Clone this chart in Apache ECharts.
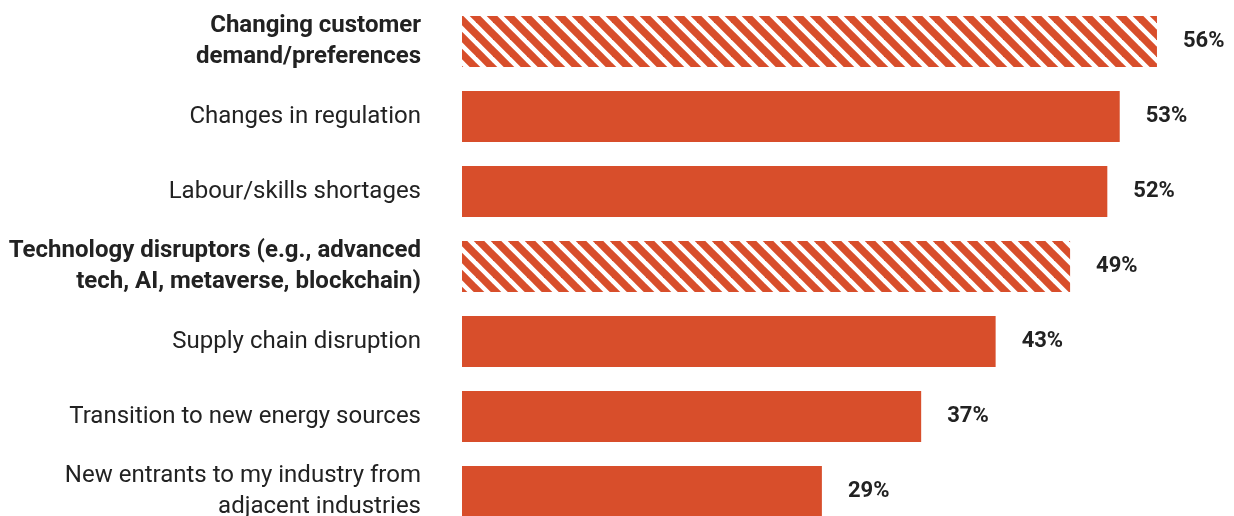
<!DOCTYPE html>
<html>
<head>
<meta charset="utf-8">
<script src="https://cdn.jsdelivr.net/npm/echarts@6/dist/echarts.min.js"></script>
<style>
html,body{margin:0;padding:0;background:#fff;}
#c{width:1234px;height:516px;}
</style>
</head>
<body>
<div id="c"></div>
<script>
const categories = [
  "Changing customer\ndemand/preferences",
  "Changes in regulation",
  "Labour/skills shortages",
  "Technology disruptors (e.g., advanced\ntech, AI, metaverse, blockchain)",
  "Supply chain disruption",
  "Transition to new energy sources",
  "New entrants to my industry from\nadjacent industries"
];
const values = [56, 53, 52, 49, 43, 37, 29];
const highlighted = [true, false, false, true, false, false, false];

const RED = '#D84E2B';

function makeHatch() {
  const s = 17;
  const cv = document.createElement('canvas');
  cv.width = s; cv.height = s;
  const ctx = cv.getContext('2d');
  ctx.fillStyle = '#ffffff';
  ctx.fillRect(0, 0, s, s);
  ctx.strokeStyle = RED;
  ctx.lineWidth = 7.5;
  for (const o of [-s, 0, s]) {
    ctx.beginPath();
    ctx.moveTo(o - 5, -5);
    ctx.lineTo(o + s + 5, s + 5);
    ctx.stroke();
  }
  return cv;
}
const hatch = { image: makeHatch(), repeat: 'repeat' };

const chart = echarts.init(document.getElementById('c'), null, { renderer: 'canvas' });
chart.setOption({
  animation: false,
  textStyle: { fontFamily: 'Roboto' },
  grid: { left: 462, top: 4, width: 60 * 12.41, height: 7 * 75, outerBoundsMode: 'none', containLabel: false },
  xAxis: {
    type: 'value', min: 0, max: 60, show: false
  },
  yAxis: {
    type: 'category',
    data: categories,
    inverse: true,
    axisLine: { show: false },
    axisTick: { show: false },
    splitLine: { show: false },
    axisLabel: {
      margin: 41,
      color: '#222',
      fontSize: 24,
      lineHeight: 31,
      fontFamily: 'Roboto',
      formatter: function (v, i) {
        return highlighted[i] ? '{b|' + v + '}' : '{n|' + v + '}';
      },
      rich: {
        b: { fontWeight: 'bold', fontSize: 24, lineHeight: 31, color: '#222', fontFamily: 'Roboto', align: 'right' },
        n: { fontWeight: 'normal', fontSize: 24, lineHeight: 31, color: '#222', fontFamily: 'Roboto', align: 'right' }
      }
    }
  },
  series: [{
    type: 'bar',
    barWidth: 51,
    data: values.map((v, i) => ({
      value: v,
      itemStyle: { color: highlighted[i] ? hatch : RED }
    })),
    label: {
      show: true,
      position: 'right',
      distance: 26,
      formatter: '{c}%',
      fontSize: 22,
      fontWeight: 'bold',
      color: '#222',
      fontFamily: 'Roboto'
    }
  }]
});
</script>
</body>
</html>
